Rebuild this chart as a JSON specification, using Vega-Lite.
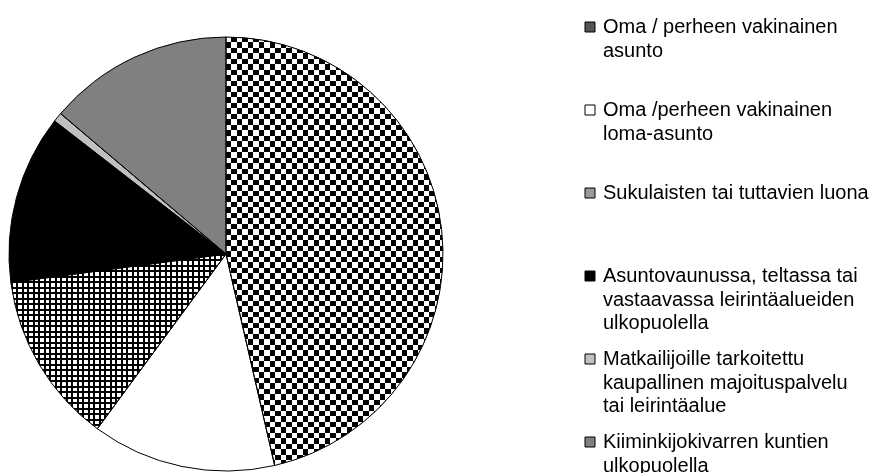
{
  "$schema": "https://vega.github.io/schema/vega-lite/v6.json",
  "width": 452,
  "height": 438,
  "padding": {"left": 0, "top": 35, "right": 425, "bottom": 0},
  "autosize": {"type": "none"},
  "background": "white",
  "config": {"view": {"stroke": null}, "font": "Liberation Sans"},
  "data": {
    "values": [
      {"kohde": "Oma / perheen vakinainen asunto", "osuus": 46.4, "jarj": 1},
      {"kohde": "Oma /perheen vakinainen loma-asunto", "osuus": 13.7, "jarj": 2},
      {"kohde": "Sukulaisten tai tuttavien luona", "osuus": 12.8, "jarj": 3},
      {"kohde": "Asuntovaunussa, teltassa tai vastaavassa leirintäalueiden ulkopuolella", "osuus": 12.6, "jarj": 4},
      {"kohde": "Matkailijoille tarkoitettu kaupallinen majoituspalvelu tai leirintäalue", "osuus": 0.7, "jarj": 5},
      {"kohde": "Kiiminkijokivarren kuntien ulkopuolella", "osuus": 13.8, "jarj": 6}
    ]
  },
  "encoding": {
    "theta": {"field": "osuus", "type": "quantitative", "stack": true},
    "order": {"field": "jarj", "type": "quantitative"}
  },
  "layer": [
    {
      "mark": {"type": "arc", "outerRadius": 217},
      "encoding": {
        "color": {
          "field": "kohde",
          "type": "nominal",
          "scale": {
            "domain": [
              "Oma / perheen vakinainen asunto",
              "Oma /perheen vakinainen loma-asunto",
              "Sukulaisten tai tuttavien luona",
              "Asuntovaunussa, teltassa tai vastaavassa leirintäalueiden ulkopuolella",
              "Matkailijoille tarkoitettu kaupallinen majoituspalvelu tai leirintäalue",
              "Kiiminkijokivarren kuntien ulkopuolella"
            ],
            "range": ["#555555", "#ffffff", "#999999", "#000000", "#c0c0c0", "#808080"]
          },
          "legend": {
            "orient": "none",
            "legendX": 580,
            "legendY": -18,
            "title": null,
            "padding": 0,
            "symbolType": "square",
            "symbolSize": 100,
            "symbolStrokeColor": "black",
            "symbolStrokeWidth": 1,
            "symbolOpacity": 1,
            "labelFont": "Liberation Sans",
            "labelFontSize": 20,
            "labelColor": "black",
            "labelLimit": 400,
            "labelOffset": 3,
            "labelBaseline": "alphabetic",
            "gridAlign": "all",
            "rowPadding": 16,
            "labelExpr": "datum.label == 'Oma / perheen vakinainen asunto' ? ['Oma / perheen vakinainen', 'asunto'] : datum.label == 'Oma /perheen vakinainen loma-asunto' ? ['Oma /perheen vakinainen', 'loma-asunto'] : datum.label == 'Asuntovaunussa, teltassa tai vastaavassa leirintäalueiden ulkopuolella' ? ['Asuntovaunussa, teltassa tai', 'vastaavassa leirintäalueiden', 'ulkopuolella'] : datum.label == 'Matkailijoille tarkoitettu kaupallinen majoituspalvelu tai leirintäalue' ? ['Matkailijoille tarkoitettu', 'kaupallinen majoituspalvelu', 'tai leirintäalue'] : datum.label == 'Kiiminkijokivarren kuntien ulkopuolella' ? ['Kiiminkijokivarren kuntien', 'ulkopuolella'] : datum.label",
            "encode": {"labels": {"update": {"dy": {"value": 6}, "lineHeight": {"value": 23.5}}}}
          }
        }
      }
    },
    {
      "mark": {"type": "arc", "outerRadius": 217},
      "encoding": {
        "fill": {
          "condition": [
            {
              "test": "datum.jarj == 1",
              "value": {
                "gradient": "linear", "x1": 0, "y1": 0, "x2": 1.0138, "y2": 0,
                "stops": [{"offset":0,"color":"#000"},{"offset":0.025,"color":"#000"},{"offset":0.025,"color":"#fff"},{"offset":0.05,"color":"#fff"},{"offset":0.05,"color":"#000"},{"offset":0.075,"color":"#000"},{"offset":0.075,"color":"#fff"},{"offset":0.1,"color":"#fff"},{"offset":0.1,"color":"#000"},{"offset":0.125,"color":"#000"},{"offset":0.125,"color":"#fff"},{"offset":0.15,"color":"#fff"},{"offset":0.15,"color":"#000"},{"offset":0.175,"color":"#000"},{"offset":0.175,"color":"#fff"},{"offset":0.2,"color":"#fff"},{"offset":0.2,"color":"#000"},{"offset":0.225,"color":"#000"},{"offset":0.225,"color":"#fff"},{"offset":0.25,"color":"#fff"},{"offset":0.25,"color":"#000"},{"offset":0.275,"color":"#000"},{"offset":0.275,"color":"#fff"},{"offset":0.3,"color":"#fff"},{"offset":0.3,"color":"#000"},{"offset":0.325,"color":"#000"},{"offset":0.325,"color":"#fff"},{"offset":0.35,"color":"#fff"},{"offset":0.35,"color":"#000"},{"offset":0.375,"color":"#000"},{"offset":0.375,"color":"#fff"},{"offset":0.4,"color":"#fff"},{"offset":0.4,"color":"#000"},{"offset":0.425,"color":"#000"},{"offset":0.425,"color":"#fff"},{"offset":0.45,"color":"#fff"},{"offset":0.45,"color":"#000"},{"offset":0.475,"color":"#000"},{"offset":0.475,"color":"#fff"},{"offset":0.5,"color":"#fff"},{"offset":0.5,"color":"#000"},{"offset":0.525,"color":"#000"},{"offset":0.525,"color":"#fff"},{"offset":0.55,"color":"#fff"},{"offset":0.55,"color":"#000"},{"offset":0.575,"color":"#000"},{"offset":0.575,"color":"#fff"},{"offset":0.6,"color":"#fff"},{"offset":0.6,"color":"#000"},{"offset":0.625,"color":"#000"},{"offset":0.625,"color":"#fff"},{"offset":0.65,"color":"#fff"},{"offset":0.65,"color":"#000"},{"offset":0.675,"color":"#000"},{"offset":0.675,"color":"#fff"},{"offset":0.7,"color":"#fff"},{"offset":0.7,"color":"#000"},{"offset":0.725,"color":"#000"},{"offset":0.725,"color":"#fff"},{"offset":0.75,"color":"#fff"},{"offset":0.75,"color":"#000"},{"offset":0.775,"color":"#000"},{"offset":0.775,"color":"#fff"},{"offset":0.8,"color":"#fff"},{"offset":0.8,"color":"#000"},{"offset":0.825,"color":"#000"},{"offset":0.825,"color":"#fff"},{"offset":0.85,"color":"#fff"},{"offset":0.85,"color":"#000"},{"offset":0.875,"color":"#000"},{"offset":0.875,"color":"#fff"},{"offset":0.9,"color":"#fff"},{"offset":0.9,"color":"#000"},{"offset":0.925,"color":"#000"},{"offset":0.925,"color":"#fff"},{"offset":0.95,"color":"#fff"},{"offset":0.95,"color":"#000"},{"offset":0.975,"color":"#000"},{"offset":0.975,"color":"#fff"},{"offset":1,"color":"#fff"}]
              }
            },
            {
              "test": "datum.jarj == 3",
              "value": {
                "gradient": "linear", "x1": 0, "y1": 0, "x2": 1.0228, "y2": 0,
                "stops": [{"offset":0,"color":"#000"},{"offset":0.0083,"color":"#000"},{"offset":0.0083,"color":"#fff"},{"offset":0.025,"color":"#fff"},{"offset":0.025,"color":"#000"},{"offset":0.0333,"color":"#000"},{"offset":0.0333,"color":"#fff"},{"offset":0.05,"color":"#fff"},{"offset":0.05,"color":"#000"},{"offset":0.0583,"color":"#000"},{"offset":0.0583,"color":"#fff"},{"offset":0.075,"color":"#fff"},{"offset":0.075,"color":"#000"},{"offset":0.0833,"color":"#000"},{"offset":0.0833,"color":"#fff"},{"offset":0.1,"color":"#fff"},{"offset":0.1,"color":"#000"},{"offset":0.1083,"color":"#000"},{"offset":0.1083,"color":"#fff"},{"offset":0.125,"color":"#fff"},{"offset":0.125,"color":"#000"},{"offset":0.1333,"color":"#000"},{"offset":0.1333,"color":"#fff"},{"offset":0.15,"color":"#fff"},{"offset":0.15,"color":"#000"},{"offset":0.1583,"color":"#000"},{"offset":0.1583,"color":"#fff"},{"offset":0.175,"color":"#fff"},{"offset":0.175,"color":"#000"},{"offset":0.1833,"color":"#000"},{"offset":0.1833,"color":"#fff"},{"offset":0.2,"color":"#fff"},{"offset":0.2,"color":"#000"},{"offset":0.2083,"color":"#000"},{"offset":0.2083,"color":"#fff"},{"offset":0.225,"color":"#fff"},{"offset":0.225,"color":"#000"},{"offset":0.2333,"color":"#000"},{"offset":0.2333,"color":"#fff"},{"offset":0.25,"color":"#fff"},{"offset":0.25,"color":"#000"},{"offset":0.2583,"color":"#000"},{"offset":0.2583,"color":"#fff"},{"offset":0.275,"color":"#fff"},{"offset":0.275,"color":"#000"},{"offset":0.2833,"color":"#000"},{"offset":0.2833,"color":"#fff"},{"offset":0.3,"color":"#fff"},{"offset":0.3,"color":"#000"},{"offset":0.3083,"color":"#000"},{"offset":0.3083,"color":"#fff"},{"offset":0.325,"color":"#fff"},{"offset":0.325,"color":"#000"},{"offset":0.3333,"color":"#000"},{"offset":0.3333,"color":"#fff"},{"offset":0.35,"color":"#fff"},{"offset":0.35,"color":"#000"},{"offset":0.3583,"color":"#000"},{"offset":0.3583,"color":"#fff"},{"offset":0.375,"color":"#fff"},{"offset":0.375,"color":"#000"},{"offset":0.3833,"color":"#000"},{"offset":0.3833,"color":"#fff"},{"offset":0.4,"color":"#fff"},{"offset":0.4,"color":"#000"},{"offset":0.4083,"color":"#000"},{"offset":0.4083,"color":"#fff"},{"offset":0.425,"color":"#fff"},{"offset":0.425,"color":"#000"},{"offset":0.4333,"color":"#000"},{"offset":0.4333,"color":"#fff"},{"offset":0.45,"color":"#fff"},{"offset":0.45,"color":"#000"},{"offset":0.4583,"color":"#000"},{"offset":0.4583,"color":"#fff"},{"offset":0.475,"color":"#fff"},{"offset":0.475,"color":"#000"},{"offset":0.4833,"color":"#000"},{"offset":0.4833,"color":"#fff"},{"offset":0.5,"color":"#fff"},{"offset":0.5,"color":"#000"},{"offset":0.5083,"color":"#000"},{"offset":0.5083,"color":"#fff"},{"offset":0.525,"color":"#fff"},{"offset":0.525,"color":"#000"},{"offset":0.5333,"color":"#000"},{"offset":0.5333,"color":"#fff"},{"offset":0.55,"color":"#fff"},{"offset":0.55,"color":"#000"},{"offset":0.5583,"color":"#000"},{"offset":0.5583,"color":"#fff"},{"offset":0.575,"color":"#fff"},{"offset":0.575,"color":"#000"},{"offset":0.5833,"color":"#000"},{"offset":0.5833,"color":"#fff"},{"offset":0.6,"color":"#fff"},{"offset":0.6,"color":"#000"},{"offset":0.6083,"color":"#000"},{"offset":0.6083,"color":"#fff"},{"offset":0.625,"color":"#fff"},{"offset":0.625,"color":"#000"},{"offset":0.6333,"color":"#000"},{"offset":0.6333,"color":"#fff"},{"offset":0.65,"color":"#fff"},{"offset":0.65,"color":"#000"},{"offset":0.6583,"color":"#000"},{"offset":0.6583,"color":"#fff"},{"offset":0.675,"color":"#fff"},{"offset":0.675,"color":"#000"},{"offset":0.6833,"color":"#000"},{"offset":0.6833,"color":"#fff"},{"offset":0.7,"color":"#fff"},{"offset":0.7,"color":"#000"},{"offset":0.7083,"color":"#000"},{"offset":0.7083,"color":"#fff"},{"offset":0.725,"color":"#fff"},{"offset":0.725,"color":"#000"},{"offset":0.7333,"color":"#000"},{"offset":0.7333,"color":"#fff"},{"offset":0.75,"color":"#fff"},{"offset":0.75,"color":"#000"},{"offset":0.7583,"color":"#000"},{"offset":0.7583,"color":"#fff"},{"offset":0.775,"color":"#fff"},{"offset":0.775,"color":"#000"},{"offset":0.7833,"color":"#000"},{"offset":0.7833,"color":"#fff"},{"offset":0.8,"color":"#fff"},{"offset":0.8,"color":"#000"},{"offset":0.8083,"color":"#000"},{"offset":0.8083,"color":"#fff"},{"offset":0.825,"color":"#fff"},{"offset":0.825,"color":"#000"},{"offset":0.8333,"color":"#000"},{"offset":0.8333,"color":"#fff"},{"offset":0.85,"color":"#fff"},{"offset":0.85,"color":"#000"},{"offset":0.8583,"color":"#000"},{"offset":0.8583,"color":"#fff"},{"offset":0.875,"color":"#fff"},{"offset":0.875,"color":"#000"},{"offset":0.8833,"color":"#000"},{"offset":0.8833,"color":"#fff"},{"offset":0.9,"color":"#fff"},{"offset":0.9,"color":"#000"},{"offset":0.9083,"color":"#000"},{"offset":0.9083,"color":"#fff"},{"offset":0.925,"color":"#fff"},{"offset":0.925,"color":"#000"},{"offset":0.9333,"color":"#000"},{"offset":0.9333,"color":"#fff"},{"offset":0.95,"color":"#fff"},{"offset":0.95,"color":"#000"},{"offset":0.9583,"color":"#000"},{"offset":0.9583,"color":"#fff"},{"offset":0.975,"color":"#fff"},{"offset":0.975,"color":"#000"},{"offset":0.9833,"color":"#000"},{"offset":0.9833,"color":"#fff"},{"offset":1,"color":"#fff"}]
              }
            }
          ],
          "value": "transparent"
        }
      }
    },
    {
      "mark": {"type": "arc", "outerRadius": 217, "blend": "difference"},
      "encoding": {
        "fill": {
          "condition": {
            "test": "datum.jarj == 1",
            "value": {
              "gradient": "linear", "x1": 0, "y1": 0, "x2": 0, "y2": 1.0268,
              "stops": [{"offset":0,"color":"#fff"},{"offset":0.0125,"color":"#fff"},{"offset":0.0125,"color":"#000"},{"offset":0.025,"color":"#000"},{"offset":0.025,"color":"#fff"},{"offset":0.0375,"color":"#fff"},{"offset":0.0375,"color":"#000"},{"offset":0.05,"color":"#000"},{"offset":0.05,"color":"#fff"},{"offset":0.0625,"color":"#fff"},{"offset":0.0625,"color":"#000"},{"offset":0.075,"color":"#000"},{"offset":0.075,"color":"#fff"},{"offset":0.0875,"color":"#fff"},{"offset":0.0875,"color":"#000"},{"offset":0.1,"color":"#000"},{"offset":0.1,"color":"#fff"},{"offset":0.1125,"color":"#fff"},{"offset":0.1125,"color":"#000"},{"offset":0.125,"color":"#000"},{"offset":0.125,"color":"#fff"},{"offset":0.1375,"color":"#fff"},{"offset":0.1375,"color":"#000"},{"offset":0.15,"color":"#000"},{"offset":0.15,"color":"#fff"},{"offset":0.1625,"color":"#fff"},{"offset":0.1625,"color":"#000"},{"offset":0.175,"color":"#000"},{"offset":0.175,"color":"#fff"},{"offset":0.1875,"color":"#fff"},{"offset":0.1875,"color":"#000"},{"offset":0.2,"color":"#000"},{"offset":0.2,"color":"#fff"},{"offset":0.2125,"color":"#fff"},{"offset":0.2125,"color":"#000"},{"offset":0.225,"color":"#000"},{"offset":0.225,"color":"#fff"},{"offset":0.2375,"color":"#fff"},{"offset":0.2375,"color":"#000"},{"offset":0.25,"color":"#000"},{"offset":0.25,"color":"#fff"},{"offset":0.2625,"color":"#fff"},{"offset":0.2625,"color":"#000"},{"offset":0.275,"color":"#000"},{"offset":0.275,"color":"#fff"},{"offset":0.2875,"color":"#fff"},{"offset":0.2875,"color":"#000"},{"offset":0.3,"color":"#000"},{"offset":0.3,"color":"#fff"},{"offset":0.3125,"color":"#fff"},{"offset":0.3125,"color":"#000"},{"offset":0.325,"color":"#000"},{"offset":0.325,"color":"#fff"},{"offset":0.3375,"color":"#fff"},{"offset":0.3375,"color":"#000"},{"offset":0.35,"color":"#000"},{"offset":0.35,"color":"#fff"},{"offset":0.3625,"color":"#fff"},{"offset":0.3625,"color":"#000"},{"offset":0.375,"color":"#000"},{"offset":0.375,"color":"#fff"},{"offset":0.3875,"color":"#fff"},{"offset":0.3875,"color":"#000"},{"offset":0.4,"color":"#000"},{"offset":0.4,"color":"#fff"},{"offset":0.4125,"color":"#fff"},{"offset":0.4125,"color":"#000"},{"offset":0.425,"color":"#000"},{"offset":0.425,"color":"#fff"},{"offset":0.4375,"color":"#fff"},{"offset":0.4375,"color":"#000"},{"offset":0.45,"color":"#000"},{"offset":0.45,"color":"#fff"},{"offset":0.4625,"color":"#fff"},{"offset":0.4625,"color":"#000"},{"offset":0.475,"color":"#000"},{"offset":0.475,"color":"#fff"},{"offset":0.4875,"color":"#fff"},{"offset":0.4875,"color":"#000"},{"offset":0.5,"color":"#000"},{"offset":0.5,"color":"#fff"},{"offset":0.5125,"color":"#fff"},{"offset":0.5125,"color":"#000"},{"offset":0.525,"color":"#000"},{"offset":0.525,"color":"#fff"},{"offset":0.5375,"color":"#fff"},{"offset":0.5375,"color":"#000"},{"offset":0.55,"color":"#000"},{"offset":0.55,"color":"#fff"},{"offset":0.5625,"color":"#fff"},{"offset":0.5625,"color":"#000"},{"offset":0.575,"color":"#000"},{"offset":0.575,"color":"#fff"},{"offset":0.5875,"color":"#fff"},{"offset":0.5875,"color":"#000"},{"offset":0.6,"color":"#000"},{"offset":0.6,"color":"#fff"},{"offset":0.6125,"color":"#fff"},{"offset":0.6125,"color":"#000"},{"offset":0.625,"color":"#000"},{"offset":0.625,"color":"#fff"},{"offset":0.6375,"color":"#fff"},{"offset":0.6375,"color":"#000"},{"offset":0.65,"color":"#000"},{"offset":0.65,"color":"#fff"},{"offset":0.6625,"color":"#fff"},{"offset":0.6625,"color":"#000"},{"offset":0.675,"color":"#000"},{"offset":0.675,"color":"#fff"},{"offset":0.6875,"color":"#fff"},{"offset":0.6875,"color":"#000"},{"offset":0.7,"color":"#000"},{"offset":0.7,"color":"#fff"},{"offset":0.7125,"color":"#fff"},{"offset":0.7125,"color":"#000"},{"offset":0.725,"color":"#000"},{"offset":0.725,"color":"#fff"},{"offset":0.7375,"color":"#fff"},{"offset":0.7375,"color":"#000"},{"offset":0.75,"color":"#000"},{"offset":0.75,"color":"#fff"},{"offset":0.7625,"color":"#fff"},{"offset":0.7625,"color":"#000"},{"offset":0.775,"color":"#000"},{"offset":0.775,"color":"#fff"},{"offset":0.7875,"color":"#fff"},{"offset":0.7875,"color":"#000"},{"offset":0.8,"color":"#000"},{"offset":0.8,"color":"#fff"},{"offset":0.8125,"color":"#fff"},{"offset":0.8125,"color":"#000"},{"offset":0.825,"color":"#000"},{"offset":0.825,"color":"#fff"},{"offset":0.8375,"color":"#fff"},{"offset":0.8375,"color":"#000"},{"offset":0.85,"color":"#000"},{"offset":0.85,"color":"#fff"},{"offset":0.8625,"color":"#fff"},{"offset":0.8625,"color":"#000"},{"offset":0.875,"color":"#000"},{"offset":0.875,"color":"#fff"},{"offset":0.8875,"color":"#fff"},{"offset":0.8875,"color":"#000"},{"offset":0.9,"color":"#000"},{"offset":0.9,"color":"#fff"},{"offset":0.9125,"color":"#fff"},{"offset":0.9125,"color":"#000"},{"offset":0.925,"color":"#000"},{"offset":0.925,"color":"#fff"},{"offset":0.9375,"color":"#fff"},{"offset":0.9375,"color":"#000"},{"offset":0.95,"color":"#000"},{"offset":0.95,"color":"#fff"},{"offset":0.9625,"color":"#fff"},{"offset":0.9625,"color":"#000"},{"offset":0.975,"color":"#000"},{"offset":0.975,"color":"#fff"},{"offset":0.9875,"color":"#fff"},{"offset":0.9875,"color":"#000"},{"offset":1,"color":"#000"}]
            }
          },
          "value": "transparent"
        }
      }
    },
    {
      "mark": {"type": "arc", "outerRadius": 217},
      "encoding": {
        "fill": {
          "condition": {
            "test": "datum.jarj == 3",
            "value": {
              "gradient": "linear", "x1": 0, "y1": 0, "x2": 0, "y2": 1.0069,
              "stops": [{"offset":0,"color":"transparent"},{"offset":0,"color":"#000"},{"offset":0.0104,"color":"#000"},{"offset":0.0104,"color":"transparent"},{"offset":0.03125,"color":"transparent"},{"offset":0.03125,"color":"#000"},{"offset":0.0417,"color":"#000"},{"offset":0.0417,"color":"transparent"},{"offset":0.0625,"color":"transparent"},{"offset":0.0625,"color":"#000"},{"offset":0.0729,"color":"#000"},{"offset":0.0729,"color":"transparent"},{"offset":0.09375,"color":"transparent"},{"offset":0.09375,"color":"#000"},{"offset":0.1042,"color":"#000"},{"offset":0.1042,"color":"transparent"},{"offset":0.125,"color":"transparent"},{"offset":0.125,"color":"#000"},{"offset":0.1354,"color":"#000"},{"offset":0.1354,"color":"transparent"},{"offset":0.15625,"color":"transparent"},{"offset":0.15625,"color":"#000"},{"offset":0.1667,"color":"#000"},{"offset":0.1667,"color":"transparent"},{"offset":0.1875,"color":"transparent"},{"offset":0.1875,"color":"#000"},{"offset":0.1979,"color":"#000"},{"offset":0.1979,"color":"transparent"},{"offset":0.21875,"color":"transparent"},{"offset":0.21875,"color":"#000"},{"offset":0.2292,"color":"#000"},{"offset":0.2292,"color":"transparent"},{"offset":0.25,"color":"transparent"},{"offset":0.25,"color":"#000"},{"offset":0.2604,"color":"#000"},{"offset":0.2604,"color":"transparent"},{"offset":0.28125,"color":"transparent"},{"offset":0.28125,"color":"#000"},{"offset":0.2917,"color":"#000"},{"offset":0.2917,"color":"transparent"},{"offset":0.3125,"color":"transparent"},{"offset":0.3125,"color":"#000"},{"offset":0.3229,"color":"#000"},{"offset":0.3229,"color":"transparent"},{"offset":0.34375,"color":"transparent"},{"offset":0.34375,"color":"#000"},{"offset":0.3542,"color":"#000"},{"offset":0.3542,"color":"transparent"},{"offset":0.375,"color":"transparent"},{"offset":0.375,"color":"#000"},{"offset":0.3854,"color":"#000"},{"offset":0.3854,"color":"transparent"},{"offset":0.40625,"color":"transparent"},{"offset":0.40625,"color":"#000"},{"offset":0.4167,"color":"#000"},{"offset":0.4167,"color":"transparent"},{"offset":0.4375,"color":"transparent"},{"offset":0.4375,"color":"#000"},{"offset":0.4479,"color":"#000"},{"offset":0.4479,"color":"transparent"},{"offset":0.46875,"color":"transparent"},{"offset":0.46875,"color":"#000"},{"offset":0.4792,"color":"#000"},{"offset":0.4792,"color":"transparent"},{"offset":0.5,"color":"transparent"},{"offset":0.5,"color":"#000"},{"offset":0.5104,"color":"#000"},{"offset":0.5104,"color":"transparent"},{"offset":0.53125,"color":"transparent"},{"offset":0.53125,"color":"#000"},{"offset":0.5417,"color":"#000"},{"offset":0.5417,"color":"transparent"},{"offset":0.5625,"color":"transparent"},{"offset":0.5625,"color":"#000"},{"offset":0.5729,"color":"#000"},{"offset":0.5729,"color":"transparent"},{"offset":0.59375,"color":"transparent"},{"offset":0.59375,"color":"#000"},{"offset":0.6042,"color":"#000"},{"offset":0.6042,"color":"transparent"},{"offset":0.625,"color":"transparent"},{"offset":0.625,"color":"#000"},{"offset":0.6354,"color":"#000"},{"offset":0.6354,"color":"transparent"},{"offset":0.65625,"color":"transparent"},{"offset":0.65625,"color":"#000"},{"offset":0.6667,"color":"#000"},{"offset":0.6667,"color":"transparent"},{"offset":0.6875,"color":"transparent"},{"offset":0.6875,"color":"#000"},{"offset":0.6979,"color":"#000"},{"offset":0.6979,"color":"transparent"},{"offset":0.71875,"color":"transparent"},{"offset":0.71875,"color":"#000"},{"offset":0.7292,"color":"#000"},{"offset":0.7292,"color":"transparent"},{"offset":0.75,"color":"transparent"},{"offset":0.75,"color":"#000"},{"offset":0.7604,"color":"#000"},{"offset":0.7604,"color":"transparent"},{"offset":0.78125,"color":"transparent"},{"offset":0.78125,"color":"#000"},{"offset":0.7917,"color":"#000"},{"offset":0.7917,"color":"transparent"},{"offset":0.8125,"color":"transparent"},{"offset":0.8125,"color":"#000"},{"offset":0.8229,"color":"#000"},{"offset":0.8229,"color":"transparent"},{"offset":0.84375,"color":"transparent"},{"offset":0.84375,"color":"#000"},{"offset":0.8542,"color":"#000"},{"offset":0.8542,"color":"transparent"},{"offset":0.875,"color":"transparent"},{"offset":0.875,"color":"#000"},{"offset":0.8854,"color":"#000"},{"offset":0.8854,"color":"transparent"},{"offset":0.90625,"color":"transparent"},{"offset":0.90625,"color":"#000"},{"offset":0.9167,"color":"#000"},{"offset":0.9167,"color":"transparent"},{"offset":0.9375,"color":"transparent"},{"offset":0.9375,"color":"#000"},{"offset":0.9479,"color":"#000"},{"offset":0.9479,"color":"transparent"},{"offset":0.96875,"color":"transparent"},{"offset":0.96875,"color":"#000"},{"offset":0.9792,"color":"#000"},{"offset":0.9792,"color":"transparent"},{"offset":1,"color":"transparent"}]
            }
          },
          "value": "transparent"
        }
      }
    },
    {
      "mark": {"type": "arc", "outerRadius": 217, "fill": "transparent", "stroke": "black", "strokeWidth": 1}
    }
  ]
}
